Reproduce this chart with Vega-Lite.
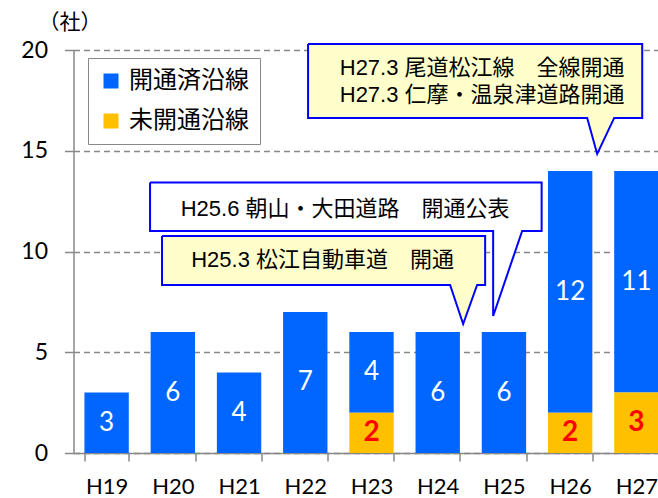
{
  "$schema": "https://vega.github.io/schema/vega-lite/v6.json",
  "width": 585,
  "height": 403,
  "autosize": {"type": "none"},
  "padding": {"left": 73.5, "top": 50, "right": 0, "bottom": 45},
  "background": "white",
  "config": {
    "view": {"stroke": null},
    "font": "Lato",
    "axisY": {"titleFont": "Noto Sans CJK JP", "titleFontSize": 21, "titleFontWeight": "normal", "titleColor": "black"}
  },
  "datasets": {
    "bars": [
      {"year": "H19", "status": "開通済沿線", "value": 3},
      {"year": "H20", "status": "開通済沿線", "value": 6},
      {"year": "H21", "status": "開通済沿線", "value": 4},
      {"year": "H22", "status": "開通済沿線", "value": 7},
      {"year": "H23", "status": "開通済沿線", "value": 4},
      {"year": "H23", "status": "未開通沿線", "value": 2},
      {"year": "H24", "status": "開通済沿線", "value": 6},
      {"year": "H25", "status": "開通済沿線", "value": 6},
      {"year": "H26", "status": "開通済沿線", "value": 12},
      {"year": "H26", "status": "未開通沿線", "value": 2},
      {"year": "H27", "status": "開通済沿線", "value": 11},
      {"year": "H27", "status": "未開通沿線", "value": 3}
    ],
    "callouts": [
      {"box": "A", "x": 1.156, "y": 13.43},
      {"box": "A", "x": 7.069, "y": 13.43},
      {"box": "A", "x": 7.069, "y": 11.02},
      {"box": "A", "x": 6.775, "y": 11.02},
      {"box": "A", "x": 6.337, "y": 6.80},
      {"box": "A", "x": 6.337, "y": 11.02},
      {"box": "A", "x": 1.156, "y": 11.02},
      {"box": "A", "x": 1.156, "y": 13.43},
      {"box": "B", "x": 1.337, "y": 10.77},
      {"box": "B", "x": 6.216, "y": 10.77},
      {"box": "B", "x": 6.216, "y": 8.34},
      {"box": "B", "x": 6.095, "y": 8.34},
      {"box": "B", "x": 5.884, "y": 6.40},
      {"box": "B", "x": 5.687, "y": 8.34},
      {"box": "B", "x": 1.337, "y": 8.34},
      {"box": "B", "x": 1.337, "y": 10.77},
      {"box": "C", "x": 3.542, "y": 20.30},
      {"box": "C", "x": 8.588, "y": 20.30},
      {"box": "C", "x": 8.588, "y": 16.63},
      {"box": "C", "x": 8.165, "y": 16.63},
      {"box": "C", "x": 7.908, "y": 14.84},
      {"box": "C", "x": 7.757, "y": 16.63},
      {"box": "C", "x": 3.542, "y": 16.63},
      {"box": "C", "x": 3.542, "y": 20.30}
    ],
    "notes": [
      {"box": "A", "x": 4.101, "y": 12.11, "label": "H25.6 朝山・大田道路　開通公表"},
      {"box": "B", "x": 3.761, "y": 9.58, "label": "H25.3 松江自動車道　開通"},
      {"box": "C", "x": 6.171, "y": 19.11, "label": "H27.3 尾道松江線　全線開通"},
      {"box": "C", "x": 6.171, "y": 17.79, "label": "H27.3 仁摩・温泉津道路開通"}
    ]
  },
  "layer": [
    {
      "data": {"name": "bars"},
      "encoding": {
        "x": {
          "field": "year",
          "type": "nominal",
          "sort": null,
          "scale": {"range": [0, 596], "paddingInner": 0.33, "paddingOuter": 0.165},
          "axis": {
            "title": null,
            "labelAngle": 0,
            "labelFont": "Lato",
            "labelFontSize": 22,
            "labelColor": "black",
            "labelPadding": 15,
            "tickSize": 8,
            "tickColor": "#888888",
            "tickWidth": 1.5,
            "tickBand": "extent",
            "domainColor": "#888888",
            "domainWidth": 1.5,
            "grid": false
          }
        }
      },
      "layer": [
        {
          "mark": {"type": "bar"},
          "encoding": {
            "y": {
              "field": "value",
              "type": "quantitative",
              "title": "（社）",
              "scale": {"domain": [0, 20], "nice": false},
              "axis": {
                "title": "（社）",
                "titleAngle": 0,
                "titleX": -4,
                "titleY": -28,
                "titleAlign": "center",
                "titleBaseline": "middle",
                "titleFontSize": 21,
                "values": [0, 5, 10, 15, 20],
                "labelFont": "Lato",
                "labelFontSize": 23,
                "labelColor": "black",
                "labelPadding": 17,
                "tickSize": 9,
                "tickColor": "#888888",
                "tickWidth": 1.5,
                "domainColor": "#888888",
                "domainWidth": 1.5,
                "grid": true,
                "gridColor": "#888888",
                "gridDash": [6, 4],
                "gridWidth": 1.3
              }
            },
            "color": {
              "field": "status",
              "type": "nominal",
              "scale": {"domain": ["開通済沿線", "未開通沿線"], "range": ["#0066FF", "#FFC000"]},
              "legend": {
                "title": null,
                "orient": "none",
                "legendX": 14.5,
                "legendY": 8,
                "direction": "vertical",
                "symbolType": "square",
                "symbolSize": 225,
                "symbolStrokeWidth": 0,
                "labelFont": "Noto Sans CJK JP",
                "labelFontSize": 24,
                "labelColor": "black",
                "labelOffset": 6,
                "rowPadding": 16,
                "padding": 11,
                "strokeColor": "#888888",
                "fillColor": "white",
                "cornerRadius": 0
              }
            },
            "order": {"field": "status", "sort": "ascending"}
          }
        },
        {
          "transform": [
            {"stack": "value", "groupby": ["year"], "sort": [{"field": "status", "order": "ascending"}], "as": ["v0", "v1"]},
            {"calculate": "(datum.v0 + datum.v1) / 2", "as": "mid"},
            {"filter": "datum.status === '開通済沿線'"}
          ],
          "mark": {"type": "text", "color": "white", "font": "Lato", "fontSize": 26, "baseline": "middle", "align": "center"},
          "encoding": {
            "y": {"field": "mid", "type": "quantitative", "title": "（社）"},
            "text": {"field": "value", "type": "quantitative"}
          }
        },
        {
          "transform": [
            {"stack": "value", "groupby": ["year"], "sort": [{"field": "status", "order": "ascending"}], "as": ["v0", "v1"]},
            {"calculate": "(datum.v0 + datum.v1) / 2", "as": "mid"},
            {"filter": "datum.status === '未開通沿線'"}
          ],
          "mark": {"type": "text", "color": "#FF0000", "font": "Lato", "fontWeight": "bold", "fontSize": 28, "baseline": "middle", "align": "center"},
          "encoding": {
            "y": {"field": "mid", "type": "quantitative", "title": "（社）"},
            "text": {"field": "value", "type": "quantitative"}
          }
        }
      ]
    },
    {
      "encoding": {
        "x": {"field": "x", "type": "quantitative", "scale": {"type": "linear", "domain": [0, 9], "range": [0, 596], "nice": false, "zero": false}, "axis": null},
        "y": {"field": "y", "type": "quantitative", "title": "（社）"}
      },
      "layer": [
        {
          "data": {"name": "callouts"},
          "transform": [{"filter": "datum.box === 'A'"}],
          "mark": {"type": "line", "fill": "white", "stroke": "#0000FF", "strokeWidth": 2, "strokeJoin": "miter"},
          "encoding": {"order": {"value": null}}
        },
        {
          "data": {"name": "notes"},
          "transform": [{"filter": "datum.box === 'A'"}],
          "mark": {"type": "text", "font": "Liberation Sans, Noto Sans CJK JP", "fontSize": 22, "color": "black", "baseline": "middle", "align": "center"},
          "encoding": {"text": {"field": "label"}}
        },
        {
          "data": {"name": "callouts"},
          "transform": [{"filter": "datum.box === 'B'"}],
          "mark": {"type": "line", "fill": "#FFFFCC", "stroke": "#0000FF", "strokeWidth": 2, "strokeJoin": "miter"},
          "encoding": {"order": {"value": null}}
        },
        {
          "data": {"name": "notes"},
          "transform": [{"filter": "datum.box === 'B'"}],
          "mark": {"type": "text", "font": "Liberation Sans, Noto Sans CJK JP", "fontSize": 22, "color": "black", "baseline": "middle", "align": "center"},
          "encoding": {"text": {"field": "label"}}
        },
        {
          "data": {"name": "callouts"},
          "transform": [{"filter": "datum.box === 'C'"}],
          "mark": {"type": "line", "fill": "#FFFFCC", "stroke": "#0000FF", "strokeWidth": 2, "strokeJoin": "miter"},
          "encoding": {"order": {"value": null}}
        },
        {
          "data": {"name": "notes"},
          "transform": [{"filter": "datum.box === 'C'"}],
          "mark": {"type": "text", "font": "Liberation Sans, Noto Sans CJK JP", "fontSize": 22, "color": "black", "baseline": "middle", "align": "center"},
          "encoding": {"text": {"field": "label"}}
        }
      ]
    }
  ],
  "resolve": {"scale": {"x": "independent"}}
}
